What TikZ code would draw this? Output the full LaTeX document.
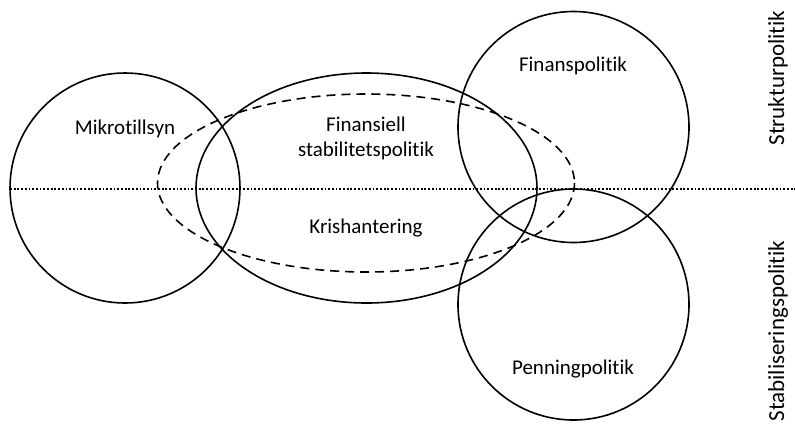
\documentclass[tikz,border=0pt]{standalone}
\usepackage{fontspec}
\setmainfont{Carlito}[Ligatures=NoCommon]
\begin{document}
\begin{tikzpicture}[x=1bp,y=-1bp,
  ring/.style={draw=black,line width=1.6bp},
  dashring/.style={draw=black,line width=1.6bp,dash pattern=on 9bp off 6bp},
  divider/.style={draw=black,line width=1.8bp,dash pattern=on 1.8bp off 1.9bp},
  lbl/.style={font=\fontsize{21bp}{25bp}\selectfont,align=center,inner sep=0pt},
  sidelbl/.style={font=\fontsize{23bp}{27bp}\selectfont,rotate=90,inner sep=0pt}]
\useasboundingbox (0,0) rectangle (795,423);
% policy areas
\draw[ring] (125,188) circle[radius=115];
\draw[ring] (366.5,188) ellipse[x radius=170.5,y radius=115];
\draw[dashring] (366,183) ellipse[x radius=208.5,y radius=89];
\draw[ring] (573.5,127) circle[radius=115.5];
\draw[ring] (573.5,304.5) circle[radius=115.5];
% horizontal split between structural and stabilisation policy
\coordinate (divL) at (10,189);
\coordinate (divR) at (795,189);
\draw[divider] (divL) -- (divR);
% labels
\node[lbl] (mikro) at (125,129) {Mikrotillsyn};
\node[lbl] (finstab) at (366,138) {Finansiell\\stabilitetspolitik};
\node[lbl] (kris) at (366,228) {Krishantering};
\node[lbl] (finans) at (573,66) {Finanspolitik};
\node[lbl] (penning) at (573,369) {Penningpolitik};
\node[sidelbl] (struktur) at (778,78) {Strukturpolitik};
\node[sidelbl] (stab) at (778,331) {Stabiliseringspolitik};
\end{tikzpicture}
\end{document}
